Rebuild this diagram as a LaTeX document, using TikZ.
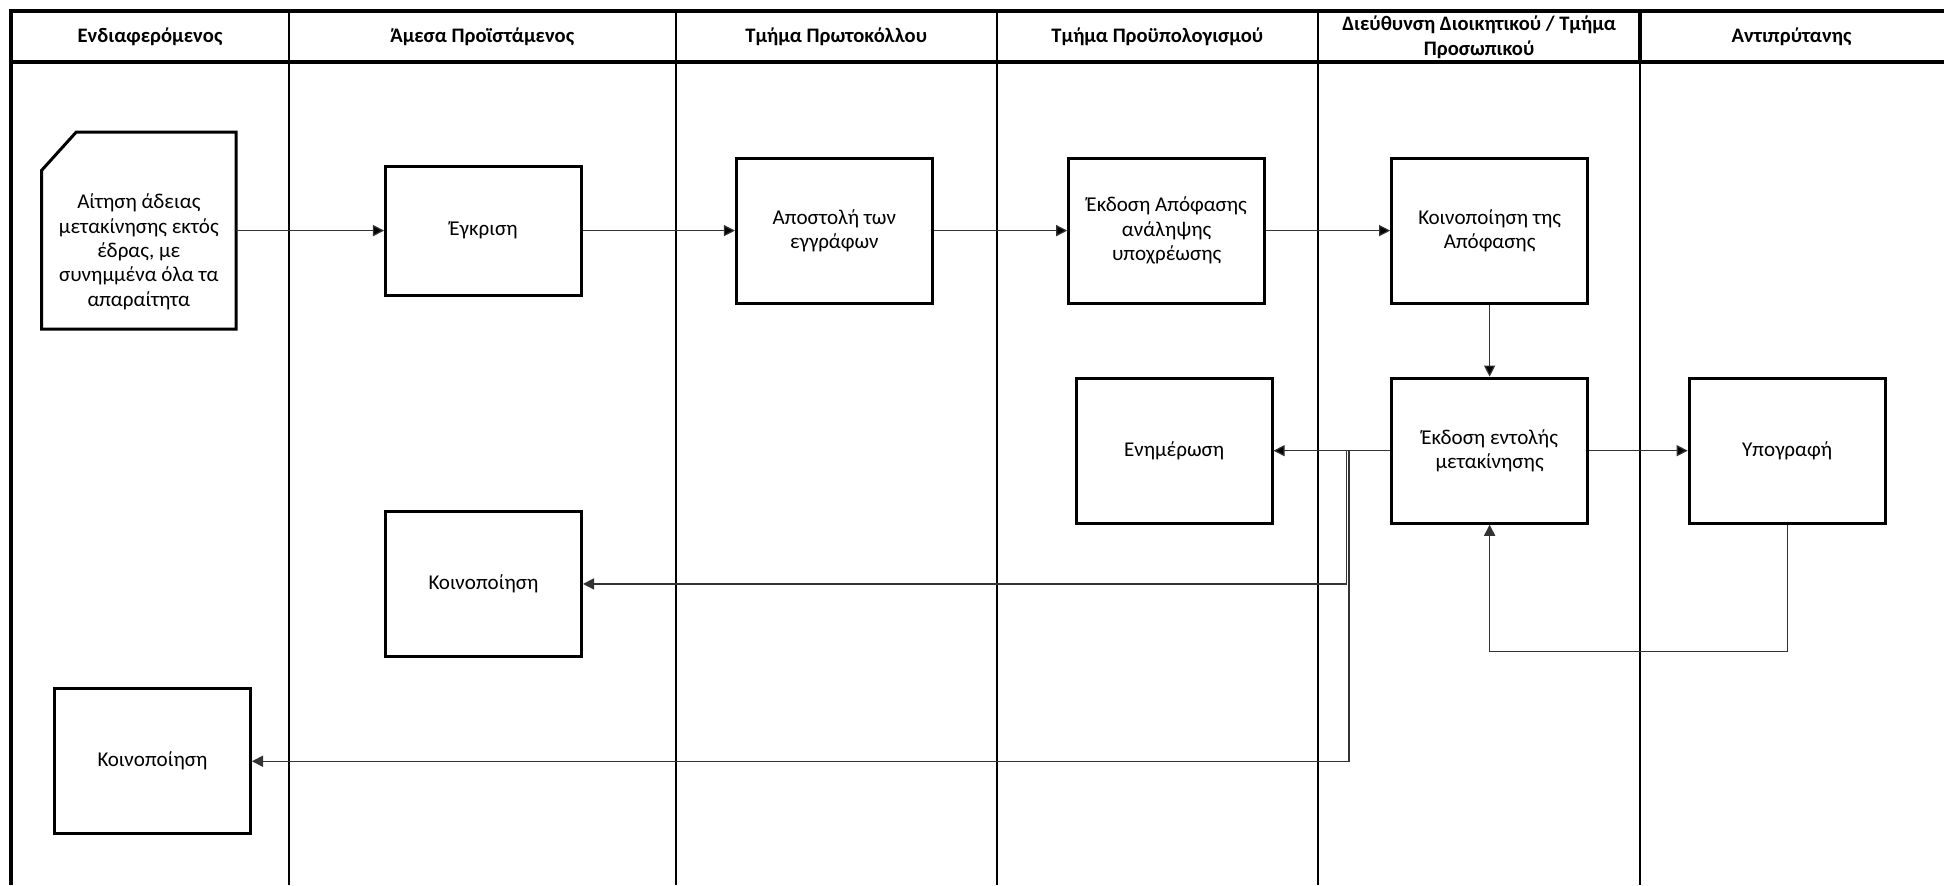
\documentclass[tikz,border=0pt]{standalone}
\usepackage{fontspec}
\setmainfont{Carlito}
\usetikzlibrary{positioning,arrows.meta}

\begin{document}
\begin{tikzpicture}[x=0.5pt,y=-0.5pt,node distance=130pt,on grid,
  every node/.style={font=\fontsize{8.5pt}{9.8pt}\selectfont,align=center},
  task/.style={draw,line width=1.2pt,minimum width=79pt,minimum height=58.5pt,inner sep=2pt},
  lanehead/.style={font=\fontsize{8.3pt}{10pt}\selectfont\bfseries},
  lane/.style={line width=0.8pt},
  frame/.style={line width=1.6pt},
  flow/.style={draw=black!80,line width=0.5pt,-{Triangle[length=4.5pt,width=4.5pt]}}]
	\useasboundingbox (0,0) rectangle (1568,714);
	% lanes
	\draw[lane] (233,9) -- (233,714);
	\draw[lane] (545,9) -- (545,714);
	\draw[lane] (804,9) -- (804,714);
	\draw[lane] (1063,9) -- (1063,714);
	\draw[frame] (1323,9) -- (1323,50);
	\draw[lane] (1323,50) -- (1323,714);
	\draw[frame] (1568,9) -- (9,9) -- (9,714);
	\draw[frame] (9,50) -- (1568,50);
	% lane titles
	\node[lanehead] (h_1) at (121,30) {Ενδιαφερόμενος};
	\node[lanehead] (h_2) at (389,30) {Άμεσα Προϊστάμενος};
	\node[lanehead] (h_3) at (674.5,30) {Τμήμα Πρωτοκόλλου};
	\node[lanehead] (h_4) at (933.5,30) {Τμήμα Προϋπολογισμού};
	\node[lanehead] (h_5) at (1193,30) {Διεύθυνση Διοικητικού / Τμήμα\\Προσωπικού};
	\node[lanehead] (h_6) at (1445,30) {Αντιπρύτανης};
	% steps
	\node[minimum width=78.5pt,minimum height=79.5pt,outer sep=0pt,
	  label={[yshift=-8.5pt]center:{Αίτηση άδειας\\μετακίνησης εκτός\\έδρας, με\\συνημμένα όλα τα\\απαραίτητα}}] (aitisi) at (112,186) {};
	\draw[line width=1.2pt] ([yshift=-15.5pt]aitisi.north west) -- ([xshift=14pt]aitisi.north west)
	  -- (aitisi.north east) -- (aitisi.south east) -- (aitisi.south west) -- cycle;
	\node[task,minimum height=52pt] (egkrisi) [right=139pt of aitisi] {Έγκριση};
	\node[task] (apostoli) [right=141.5pt of egkrisi] {Αποστολή των\\εγγράφων};
	\node[task] (ekdosi) [right=134pt of apostoli] {Έκδοση Απόφασης\\ανάληψης\\υποχρέωσης};
	\node[task] (koin_apof) [right=130.25pt of ekdosi] {Κοινοποίηση της\\Απόφασης};
	\node[task] (entoli) [below=88.75pt of koin_apof] {Έκδοση εντολής\\μετακίνησης};
	\node[task] (ypogr) [right=120pt of entoli] {Υπογραφή};
	\node[task] (enim) [left=127.25pt of entoli] {Ενημέρωση};
	\node[task] (koin_2) [below=142.5pt of egkrisi] {Κοινοποίηση};
	\node[task] (koin_1) at (123,614) {Κοινοποίηση};
	% flow
	\coordinate (split_1) at (1086,364);
	\coordinate (split_2) at (1088,364);
	\path[flow]
	(aitisi) edge (egkrisi)
	(egkrisi) edge (apostoli)
	(apostoli) edge (ekdosi)
	(ekdosi) edge (koin_apof)
	(koin_apof) edge (entoli)
	(entoli) edge (ypogr)
	edge (enim);
	\draw[flow] (split_1) |- (koin_2.east);
	\draw[flow] (split_2) |- (koin_1.east);
	\draw[flow] (ypogr.south) -- ++(0,102) -| (entoli.south);
\end{tikzpicture}
\end{document}
